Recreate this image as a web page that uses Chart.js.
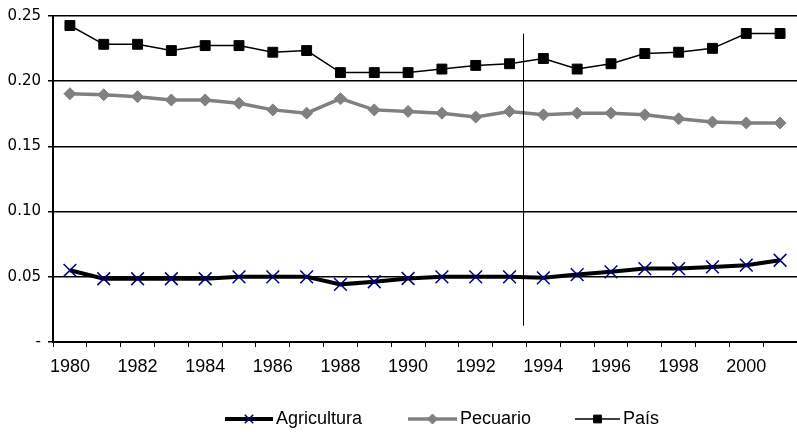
<!DOCTYPE html>
<html lang="es">
<head>
  <meta charset="UTF-8" />
  <title>Agricultura, Pecuario, País</title>
  <style>
    body { margin: 0; background: #fff; }
    #wrap { width: 797px; height: 432px; }
  </style>
  <script src="https://cdn.jsdelivr.net/npm/chart.js"></script>
</head>
<body>
  <div id="wrap"><canvas id="chart" width="797" height="432"></canvas></div>

  <script>
    const years = ['1980','1981','1982','1983','1984','1985','1986','1987','1988','1989','1990',
                   '1991','1992','1993','1994','1995','1996','1997','1998','1999','2000','2001'];
    const agricultura = [0.055, 0.0485, 0.0485, 0.0485, 0.0485, 0.050, 0.050, 0.050, 0.0442, 0.0462, 0.0487,
                         0.050, 0.050, 0.050, 0.0492, 0.0517, 0.0538, 0.0563, 0.0563, 0.0576, 0.0589, 0.0627];
    const pecuario = [0.1904, 0.1896, 0.1881, 0.1856, 0.1856, 0.1831, 0.178, 0.1755, 0.1866, 0.178, 0.1768,
                      0.1755, 0.1725, 0.1768, 0.1742, 0.1755, 0.1755, 0.1742, 0.1712, 0.1687, 0.168, 0.168];
    const pais = [0.2427, 0.2283, 0.2283, 0.2235, 0.2273, 0.2273, 0.2222, 0.2235, 0.2066, 0.2066, 0.2066,
                  0.2093, 0.2121, 0.2134, 0.2174, 0.2093, 0.2134, 0.2212, 0.2222, 0.2252, 0.2366, 0.2366];
    const yTicks = [0, 0.05, 0.10, 0.15, 0.20, 0.25];

    const sans = "'Liberation Sans', Arial, sans-serif";

    // vertical marker line between 1993 and 1994
    const divider = {
      id: 'divider',
      afterDatasetsDraw(chart) {
        const x = chart.scales.x, y = chart.scales.y, ctx = chart.ctx;
        const a = x.getPixelForValue(13), b = x.getPixelForValue(14);
        const px = Math.round(a + 0.39 * (b - a)) + 0.5;
        ctx.save();
        ctx.strokeStyle = '#000';
        ctx.lineWidth = 1;
        ctx.beginPath();
        ctx.moveTo(px, y.getPixelForValue(0.2365));
        ctx.lineTo(px, y.getPixelForValue(0.0125));
        ctx.stroke();
        ctx.restore();
      }
    };

    // legend drawn as line + marker + text
    const legendX = [225, 408, 575];
    const legendLen = [48, 49, 45];
    const legendRadius = [6, 5, 5.5];
    const lineLegend = {
      id: 'lineLegend',
      afterDraw(chart) {
        const ctx = chart.ctx;
        const y = 419;
        ctx.save();
        chart.data.datasets.forEach((ds, i) => {
          const x0 = legendX[i], len = legendLen[i];
          ctx.strokeStyle = ds.borderColor;
          ctx.lineWidth = ds.borderWidth;
          ctx.beginPath();
          ctx.moveTo(x0, y);
          ctx.lineTo(x0 + len, y);
          ctx.stroke();
          ctx.fillStyle = ds.pointBackgroundColor;
          ctx.strokeStyle = ds.pointBorderColor;
          ctx.lineWidth = ds.pointBorderWidth;
          Chart.helpers.drawPoint(ctx, {
            pointStyle: ds.pointStyle, radius: legendRadius[i], rotation: 0,
            borderWidth: ds.pointBorderWidth
          }, x0 + len / 2, y);
          ctx.fillStyle = '#000';
          ctx.font = '18px ' + sans;
          ctx.textBaseline = 'middle';
          ctx.textAlign = 'left';
          ctx.fillText(ds.label, x0 + len + 3, y);
        });
        ctx.restore();
      }
    };

    new Chart(document.getElementById('chart'), {
      type: 'line',
      data: {
        labels: years,
        datasets: [
          {
            label: 'Agricultura', data: agricultura,
            borderColor: '#000', borderWidth: 4,
            pointStyle: 'crossRot', pointRadius: 9,
            pointBorderColor: '#000080', pointBackgroundColor: '#000080', pointBorderWidth: 1.5
          },
          {
            label: 'Pecuario', data: pecuario,
            borderColor: '#808080', borderWidth: 3.5,
            pointStyle: 'rectRot', pointRadius: 6,
            pointBorderColor: '#808080', pointBackgroundColor: '#808080', pointBorderWidth: 1
          },
          {
            label: 'País', data: pais,
            borderColor: '#000', borderWidth: 1.5,
            pointStyle: 'rect', pointRadius: 7,
            pointBorderColor: '#000', pointBackgroundColor: '#000', pointBorderWidth: 1
          }
        ]
      },
      options: {
        responsive: false,
        animation: false,
        layout: { autoPadding: false, padding: { top: 12, right: 0, bottom: 30, left: 0 } },
        plugins: { legend: { display: false }, tooltip: { enabled: false } },
        elements: { line: { tension: 0 } },
        scales: {
          x: {
            offset: true,
            afterFit: s => { s.height = 60; s.paddingLeft = 0; s.paddingRight = 0; },
            grid: { offset: true, drawOnChartArea: false, color: '#000', tickLength: 5, tickWidth: 1 },
            border: { color: '#000', width: 2 },
            ticks: {
              autoSkip: false, maxRotation: 0, color: '#000', padding: 9,
              font: { family: sans, size: 18 },
              callback: (v, i) => (i % 2 === 0 ? years[i] : '')
            }
          },
          y: {
            min: 0, max: 0.25,
            afterFit: s => { s.width = 53; },
            afterBuildTicks: s => { s.ticks = yTicks.map(v => ({ value: v })); },
            grid: { color: '#000', lineWidth: 1.5, tickLength: 5 },
            border: { color: '#000', width: 2 },
            ticks: {
              color: '#000', padding: 7,
              font: { family: "'DejaVu Sans', Verdana, sans-serif", size: 15 },
              callback: v => (v === 0 ? '-' : v.toFixed(2))
            }
          }
        }
      },
      plugins: [divider, lineLegend]
    });
  </script>
</body>
</html>
